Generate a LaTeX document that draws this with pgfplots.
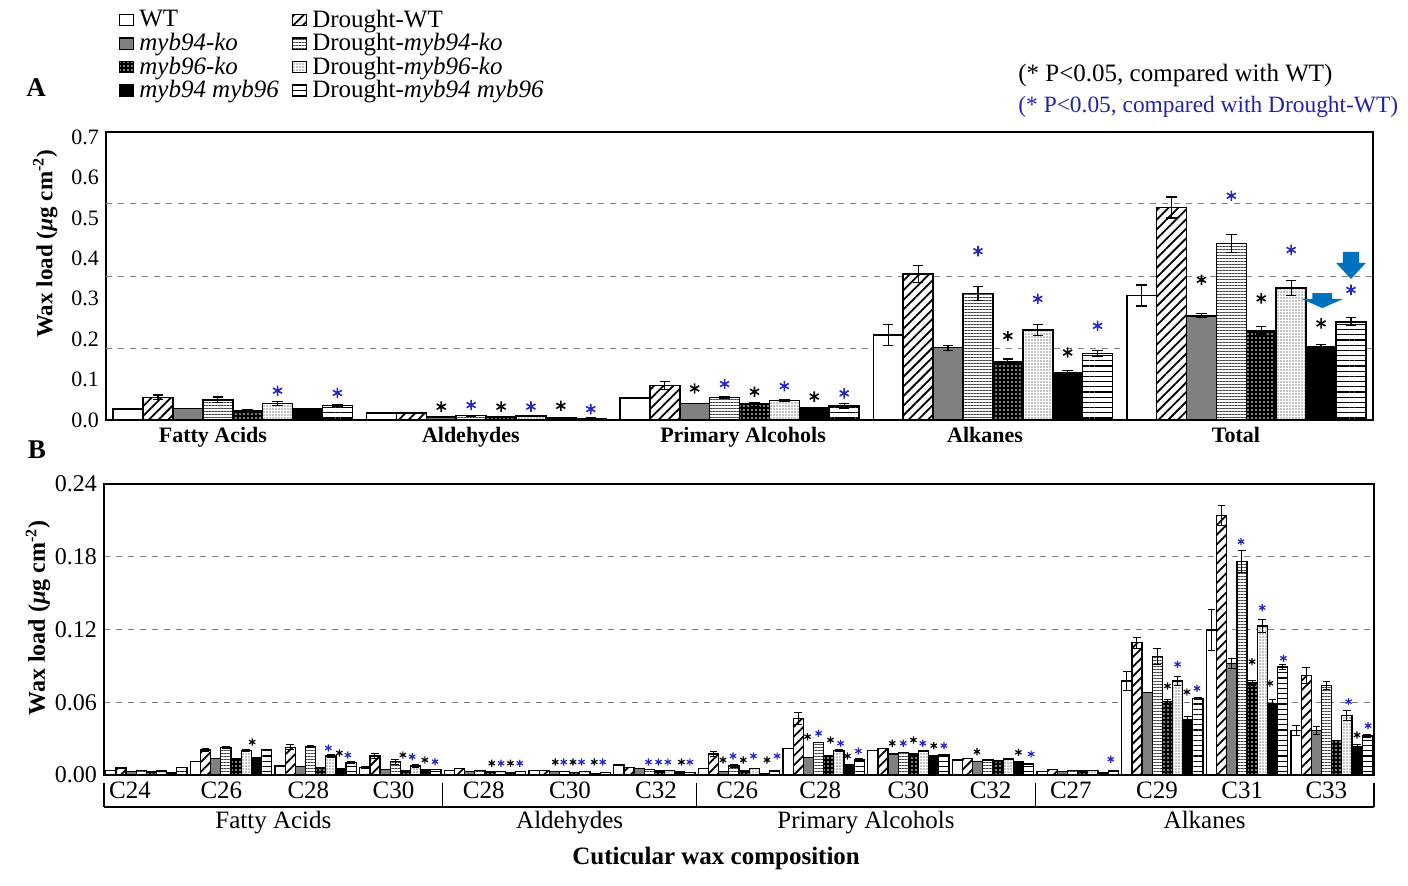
\documentclass[border=0pt]{standalone}
\usepackage{pgfplots}
\pgfplotsset{compat=1.18}
\usepackage{pgfplotstable}
\usetikzlibrary{patterns.meta}
\usepackage{fontspec}
\setmainfont{Liberation Serif}

\definecolor{starblue}{RGB}{35,35,200}
\definecolor{txtblue}{RGB}{35,35,170}
\definecolor{arrowblue}{RGB}{0,112,192}
\definecolor{midgray}{RGB}{128,128,128}
\newcommand{\fs}[1]{\fontsize{#1}{#1}\selectfont}

% Panel A: x WT eWT DWT eDWT M94 eM94 DM94 eDM94 M96 eM96 DM96 eDM96 DBL eDBL DDBL eDDBL
\pgfplotstableread{
x WT eWT DWT eDWT M94 eM94 DM94 eDM94 M96 eM96 DM96 eDM96 DBL eDBL DDBL eDDBL
0 0.0265 0 0.056 0.006 0.028 0 0.050 0.007 0.024 0.002 0.041 0.005 0.0265 0 0.036 0.002
1 0.0166 0 0.0166 0 0.008 0 0.011 0.001 0.007 0 0.010 0.001 0.005 0 0.002 0.003
2 0.054 0 0.085 0.010 0.041 0 0.056 0.002 0.039 0.005 0.048 0.003 0.031 0 0.034 0.006
3 0.210 0.026 0.361 0.021 0.179 0.006 0.313 0.017 0.144 0.007 0.223 0.013 0.116 0.007 0.165 0.007
4 0.308 0.026 0.526 0.026 0.258 0.005 0.437 0.022 0.222 0.009 0.327 0.018 0.180 0.007 0.243 0.010
}\tabA

\pgfplotstableread{
x WT eWT DWT eDWT M94 eM94 DM94 eDM94 M96 eM96 DM96 eDM96 DBL eDBL DDBL eDDBL
0 0.0035 0 0.006 0.0005 0.0027 0 0.004 0 0.0027 0 0.0033 0 0.0022 0 0.0063 0
1 0.011 0 0.0206 0.001 0.0138 0 0.0228 0.001 0.0138 0 0.020 0.001 0.014 0 0.0212 0
2 0.0074 0 0.0229 0.002 0.0069 0 0.0234 0.001 0.0063 0 0.0157 0.001 0.0055 0 0.0102 0.001
3 0.0063 0.001 0.0157 0.002 0.0047 0 0.011 0.002 0.004 0 0.0074 0.001 0.0047 0 0.0047 0
4 0.0035 0 0.0055 0 0.0027 0 0.004 0 0.0025 0 0.003 0 0.002 0 0.0027 0
5 0.0035 0 0.004 0 0.0027 0 0.0027 0 0.0022 0 0.0027 0 0.0014 0 0.0022 0
6 0.0083 0 0.0063 0 0.0055 0 0.0047 0 0.0035 0 0.004 0 0.0027 0 0.002 0
7 0.0055 0 0.0173 0.002 0.0027 0 0.0074 0.001 0.0035 0 0.0055 0 0.0014 0 0.0033 0
8 0.022 0 0.0468 0.005 0.0146 0 0.027 0 0.0157 0 0.020 0.001 0.0083 0 0.0124 0.001
9 0.020 0 0.022 0 0.0173 0 0.0187 0 0.0173 0 0.0198 0 0.0157 0 0.0165 0
10 0.0124 0 0.0138 0 0.011 0 0.0124 0 0.0116 0 0.0132 0 0.011 0 0.009 0
11 0.0027 0 0.0047 0 0.0027 0 0.004 0 0.0035 0 0.004 0 0.0022 0 0.004 0
12 0.0776 0.0077 0.109 0.0044 0.068 0 0.0976 0.0066 0.0605 0.002 0.0776 0.0036 0.046 0.0022 0.0633 0.001
13 0.1196 0.017 0.214 0.008 0.092 0.004 0.176 0.009 0.0762 0.002 0.123 0.0052 0.0586 0.0033 0.0894 0.002
14 0.0366 0.0039 0.082 0.0069 0.0366 0.003 0.0737 0.0033 0.0283 0 0.049 0.0039 0.0234 0.0014 0.0322 0.001
}\tabB

\tikzset{
  bWT/.style={draw=black, fill=white},
  bDWT/.style={draw=black, fill=white, postaction={pattern={Lines[angle=45,distance=3.4pt,line width=0.9pt]}}},
  bM94/.style={draw=black, fill=midgray},
  bDM94/.style={draw=black, fill=white, postaction={pattern={Lines[angle=0,distance=1.5pt,line width=0.5pt]}, pattern color=black!75}},
  bM96/.style={draw=black, fill=black, postaction={pattern={Dots[distance=2pt,radius=0.45pt]}, pattern color=white}},
  bDM96/.style={draw=black, fill=white, postaction={pattern={Dots[distance=1.5pt,radius=0.35pt]}, pattern color=black}},
  bDBL/.style={draw=black, fill=black},
  bDDBL/.style={draw=black, fill=white, postaction={pattern={Lines[angle=0,distance=2.6pt,line width=0.6pt]}}},
}
\pgfplotsset{
  barA/.style={ybar, bar width=0.118, bar shift=0pt, line width=0.8pt,
    /pgfplots/error bars/y dir=both, /pgfplots/error bars/y explicit,
    /pgfplots/error bars/error bar style={line width=0.6pt, black},
    /pgfplots/error bars/error mark options={rotate=90, mark size=2.6pt, line width=0.6pt, black}},
  barB/.style={ybar, bar width=0.12, bar shift=0pt, line width=0.65pt,
    /pgfplots/error bars/y dir=both, /pgfplots/error bars/y explicit,
    /pgfplots/error bars/error bar style={line width=0.5pt, black},
    /pgfplots/error bars/error mark options={rotate=90, mark size=1.9pt, line width=0.5pt, black}},
}

\begin{document}
\begin{tikzpicture}
\useasboundingbox (0,0) rectangle (704pt,-443pt);

% ---------------- Panel A ----------------
\begin{axis}[
  at={(53pt,-210pt)}, anchor=south west, scale only axis,
  width=633.5pt, height=144pt,
  xmin=-0.5, xmax=4.5, ymin=0, ymax=0.7129,
  clip=false,
  axis line style={line width=0.7pt},
  major tick length=0pt,
  ytick={0,0.1,0.2,0.3,0.4,0.5,0.6,0.7},
  yticklabels={0.0,0.1,0.2,0.3,0.4,0.5,0.6,0.7},
  extra y ticks={0.178,0.356,0.535},
  extra y tick labels={},
  extra y tick style={ymajorgrids=true},
  major grid style={dashed, gray, line width=0.5pt},
  yticklabel style={font=\fs{11}},
  xtick={-0.078,0.94,2.014,2.969,3.959},
  xticklabels={Fatty Acids,Aldehydes,Primary Alcohols,Alkanes,Total},
  xticklabel style={font=\bfseries\fs{11}},
  ylabel={\textbf{Wax load (\textit{µ}g cm\textsuperscript{-2})}},
  ylabel style={at={(axis description cs:-0.048,0.612)}, anchor=center, font=\fs{11.5}},
  legend columns=2, legend cell align=left,
  legend style={at={(axis description cs:0.0096,1.431)}, anchor=north west, draw=none, fill=none,
    inner sep=0pt, font=\fs{12.5}, nodes={inner sep=0.8pt},
    /tikz/every odd column/.append style={column sep=2pt},
    /tikz/every even column/.append style={column sep=5.5pt}},
  legend image code/.code={\draw[#1, line width=0.6pt] (0pt,-2.8pt) rectangle (7pt,2.8pt);},
]
\addplot[bWT,   barA] table[x expr=\thisrow{x}-0.413, y=WT,   y error=eWT]   {\tabA};
\addplot[bDWT,  barA] table[x expr=\thisrow{x}-0.295, y=DWT,  y error=eDWT]  {\tabA};
\addplot[bM94,  barA] table[x expr=\thisrow{x}-0.177, y=M94,  y error=eM94]  {\tabA};
\addplot[bDM94, barA] table[x expr=\thisrow{x}-0.059, y=DM94, y error=eDM94] {\tabA};
\addplot[bM96,  barA] table[x expr=\thisrow{x}+0.059, y=M96,  y error=eM96]  {\tabA};
\addplot[bDM96, barA] table[x expr=\thisrow{x}+0.177, y=DM96, y error=eDM96] {\tabA};
\addplot[bDBL,  barA] table[x expr=\thisrow{x}+0.295, y=DBL,  y error=eDBL]  {\tabA};
\addplot[bDDBL, barA] table[x expr=\thisrow{x}+0.413, y=DDBL, y error=eDDBL] {\tabA};
\legend{WT, Drought-WT, \textit{myb94-ko}, Drought-\textit{myb94-ko}, \textit{myb96-ko}, Drought-\textit{myb96-ko}, \textit{myb94 myb96}, Drought-\textit{myb94 myb96}}

% significance stars (black: vs WT)
\addplot[only marks, mark=asterisk, mark size=2.6pt, mark options={line width=0.8pt, black}, forget plot] table {
x y
0.823 0.033
1.059 0.033
1.295 0.035
1.823 0.078
2.059 0.070
2.295 0.058
3.059 0.208
3.295 0.167
3.823 0.347
4.059 0.301
4.295 0.239
};
% significance stars (blue: vs Drought-WT)
\addplot[only marks, mark=asterisk, mark size=2.6pt, mark options={line width=0.8pt, starblue}, forget plot] table {
x y
0.177 0.0725
0.413 0.067
0.941 0.037
1.177 0.033
1.413 0.027
1.941 0.089
2.177 0.084
2.413 0.066
2.941 0.418
3.177 0.300
3.413 0.233
3.941 0.555
4.177 0.421
4.413 0.322
};
% arrows
\fill[arrowblue] (axis cs:4.381,0.416) -- (axis cs:4.445,0.416) -- (axis cs:4.445,0.389) -- (axis cs:4.472,0.389)
  -- (axis cs:4.413,0.349) -- (axis cs:4.354,0.389) -- (axis cs:4.381,0.389) -- cycle;
\fill[arrowblue] (axis cs:4.261,0.314) -- (axis cs:4.339,0.314) -- (axis cs:4.339,0.300) -- (axis cs:4.383,0.300)
  -- (axis cs:4.30,0.277) -- (axis cs:4.217,0.300) -- (axis cs:4.261,0.300) -- cycle;
\end{axis}

% ---------------- Panel B ----------------
\begin{axis}[
  at={(52pt,-387.5pt)}, anchor=south west, scale only axis,
  width=635pt, height=145.5pt,
  xmin=-0.5, xmax=14.5, ymin=0, ymax=0.24,
  clip=false,
  axis line style={line width=0.7pt},
  major tick length=0pt,
  ytick={0,0.06,0.12,0.18,0.24},
  yticklabels={0.00,0.06,0.12,0.18,0.24},
  ymajorgrids=true,
  major grid style={dashed, gray, line width=0.5pt},
  yticklabel style={font=\fs{12}},
  xtick={-0.193,0.886,1.914,2.92,3.985,5.003,6.02,6.979,7.96,9.0,9.972,10.92,11.937,12.943,13.937},
  xticklabels={C24,C26,C28,C30,C28,C30,C32,C26,C28,C30,C32,C27,C29,C31,C33},
  xticklabel style={font=\fs{12.5}},
  ylabel={\textbf{Wax load (\textit{µ}g cm\textsuperscript{-2})}},
  ylabel style={at={(axis description cs:-0.052,0.54)}, anchor=center, font=\fs{12}},
  xlabel={\textbf{Cuticular wax composition}},
  xlabel style={at={(axis description cs:0.482,-0.287)}, anchor=center, font=\fs{12.5}},
]
\addplot[bWT,   barB] table[x expr=\thisrow{x}-0.42, y=WT,   y error=eWT]   {\tabB};
\addplot[bDWT,  barB] table[x expr=\thisrow{x}-0.30, y=DWT,  y error=eDWT]  {\tabB};
\addplot[bM94,  barB] table[x expr=\thisrow{x}-0.18, y=M94,  y error=eM94]  {\tabB};
\addplot[bDM94, barB] table[x expr=\thisrow{x}-0.06, y=DM94, y error=eDM94] {\tabB};
\addplot[bM96,  barB] table[x expr=\thisrow{x}+0.06, y=M96,  y error=eM96]  {\tabB};
\addplot[bDM96, barB] table[x expr=\thisrow{x}+0.18, y=DM96, y error=eDM96] {\tabB};
\addplot[bDBL,  barB] table[x expr=\thisrow{x}+0.30, y=DBL,  y error=eDBL]  {\tabB};
\addplot[bDDBL, barB] table[x expr=\thisrow{x}+0.42, y=DDBL, y error=eDDBL] {\tabB};

\addplot[only marks, mark=asterisk, mark size=1.8pt, mark options={line width=0.6pt, black}, forget plot] table {
x y
1.25 0.0272
2.28 0.0182
3.03 0.0165
3.29 0.0124
4.08 0.0097
4.30 0.0097
4.83 0.0107
5.04 0.0107
5.29 0.0107
6.32 0.0107
6.81 0.0124
7.05 0.0124
7.33 0.0124
7.81 0.0316
8.08 0.0289
8.28 0.0157
8.81 0.0262
9.06 0.0289
9.30 0.0242
9.81 0.0192
10.30 0.0187
12.06 0.0734
12.29 0.0685
13.06 0.0935
13.27 0.0757
14.30 0.033
};
\addplot[only marks, mark=asterisk, mark size=1.8pt, mark options={line width=0.6pt, starblue}, forget plot] table {
x y
2.15 0.0223
2.38 0.0165
3.14 0.0151
3.41 0.011
4.19 0.0097
4.41 0.0097
4.93 0.0107
5.14 0.0107
5.39 0.0107
5.93 0.0107
6.05 0.0107
6.16 0.0107
6.42 0.0107
6.93 0.0157
7.17 0.0157
7.45 0.0157
7.94 0.0344
8.20 0.0262
8.41 0.0198
8.94 0.0262
9.17 0.0262
9.42 0.0242
10.45 0.0173
11.39 0.013
12.18 0.0913
12.41 0.0715
12.93 0.1925
13.18 0.138
13.43 0.0963
14.20 0.0605
14.43 0.0407
};
% group brackets
\draw[line width=0.6pt] ([yshift=-16pt]axis cs:-0.5,0) -- ([yshift=-16pt]axis cs:14.5,0);
\draw[line width=0.6pt] ([yshift=-4pt]axis cs:-0.5,0) -- ([yshift=-16pt]axis cs:-0.5,0);
\draw[line width=0.6pt] ([yshift=-4pt]axis cs:3.5,0) -- ([yshift=-16pt]axis cs:3.5,0);
\draw[line width=0.6pt] ([yshift=-4pt]axis cs:6.5,0) -- ([yshift=-16pt]axis cs:6.5,0);
\draw[line width=0.6pt] ([yshift=-4pt]axis cs:10.5,0) -- ([yshift=-16pt]axis cs:10.5,0);
\draw[line width=0.6pt] ([yshift=-4pt]axis cs:14.5,0) -- ([yshift=-16pt]axis cs:14.5,0);
\node[font=\fs{12.5}, anchor=base] at ([yshift=-26.5pt]axis cs:1.5,0) {Fatty Acids};
\node[font=\fs{12.5}, anchor=base] at ([yshift=-26.5pt]axis cs:5.0,0) {Aldehydes};
\node[font=\fs{12.5}, anchor=base] at ([yshift=-26.5pt]axis cs:8.5,0) {Primary Alcohols};
\node[font=\fs{12.5}, anchor=base] at ([yshift=-26.5pt]axis cs:12.5,0) {Alkanes};
\end{axis}

\node[font=\bfseries\fs{13.5}] at (18pt,-44pt) {A};
\node[font=\bfseries\fs{13.5}] at (18.5pt,-225pt) {B};
\node[anchor=west, font=\fs{12.5}, inner sep=0pt] at (509pt,-37.5pt) {(* P<0.05, compared with WT)};
\node[anchor=west, font=\fs{11.7}, inner sep=0pt, text=txtblue] at (509pt,-53.5pt) {(* P<0.05, compared with Drought-WT)};
\end{tikzpicture}
\end{document}
